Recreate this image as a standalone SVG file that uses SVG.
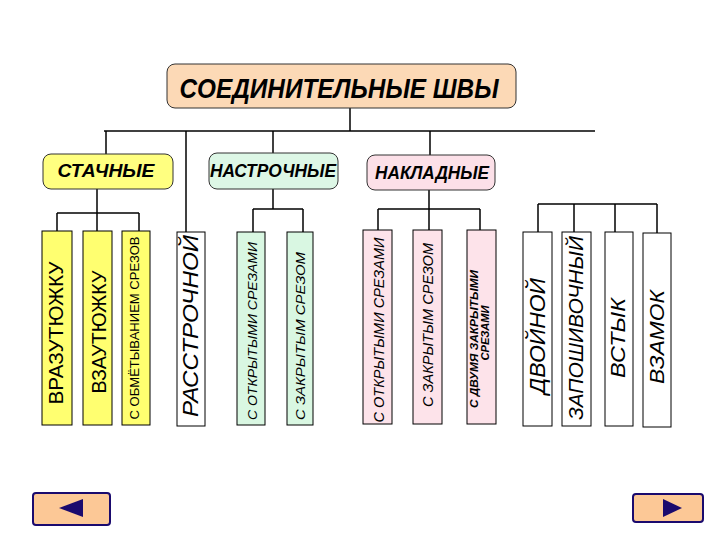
<svg xmlns="http://www.w3.org/2000/svg" width="720" height="540" viewBox="0 0 720 540">
<style>
.bg{fill:#ffffff}
.line{stroke:#000;stroke-width:1.5;fill:none}
.hdr{stroke:#333;stroke-width:1}
.box{stroke:#000;stroke-width:1}
.yel{fill:#FFFF70}
.grn{fill:#D9F7E2}
.pnk{fill:#FDE3EA}
.wht{fill:#ffffff}
.t{font-family:"Liberation Sans",Arial,sans-serif;fill:#000}
.hb{font-weight:bold;font-style:italic}
.btn{fill:#FCC896;stroke:#1A0A6E;stroke-width:2}
.tri{fill:#1A0A6E}
</style>
<rect class="bg" x="0" y="0" width="720" height="540"/>

<g id="connectors">
<line class="line" x1="104" y1="131" x2="595" y2="131"/>
<line class="line" x1="350" y1="108" x2="350" y2="131"/>
<line class="line" x1="106" y1="131" x2="106" y2="154"/>
<line class="line" x1="186" y1="131" x2="186" y2="232"/>
<line class="line" x1="273" y1="131" x2="273" y2="153"/>
<line class="line" x1="430" y1="131" x2="430" y2="155"/>
<line class="line" x1="97" y1="189" x2="97" y2="213"/>
<line class="line" x1="57" y1="213" x2="139" y2="213"/>
<line class="line" x1="57" y1="213" x2="57" y2="232"/>
<line class="line" x1="97" y1="213" x2="97" y2="232"/>
<line class="line" x1="139" y1="213" x2="139" y2="232"/>
<line class="line" x1="273" y1="189" x2="273" y2="209"/>
<line class="line" x1="253" y1="209" x2="303" y2="209"/>
<line class="line" x1="253" y1="209" x2="253" y2="232"/>
<line class="line" x1="303" y1="209" x2="303" y2="232"/>
<line class="line" x1="429" y1="190" x2="429" y2="209"/>
<line class="line" x1="378" y1="209" x2="480" y2="209"/>
<line class="line" x1="378" y1="209" x2="378" y2="230"/>
<line class="line" x1="429" y1="209" x2="429" y2="230"/>
<line class="line" x1="480" y1="209" x2="480" y2="230"/>
<line class="line" x1="538" y1="204" x2="657" y2="204"/>
<line class="line" x1="538" y1="204" x2="538" y2="232"/>
<line class="line" x1="574" y1="204" x2="574" y2="232"/>
<line class="line" x1="615" y1="204" x2="615" y2="232"/>
<line class="line" x1="657" y1="204" x2="657" y2="233"/>
</g>

<g id="title">
<rect class="hdr" x="167" y="64" width="349" height="44" rx="8" fill="#FCD9B6"/>
<text class="t hb" x="339" y="98" font-size="27" text-anchor="middle" textLength="319" lengthAdjust="spacingAndGlyphs">СОЕДИНИТЕЛЬНЫЕ ШВЫ</text>
</g>

<g id="stachnye">
<rect class="hdr" x="43" y="154" width="130" height="35" rx="8" fill="#FFFF80"/>
<text class="t hb" x="106" y="177" font-size="19" text-anchor="middle" textLength="97" lengthAdjust="spacingAndGlyphs">СТАЧНЫЕ</text>
</g>

<g id="nastrochnye">
<rect class="hdr" x="209" y="153" width="129" height="36" rx="8" fill="#DDF7E6"/>
<text class="t hb" x="273" y="177" font-size="19" text-anchor="middle" textLength="126" lengthAdjust="spacingAndGlyphs">НАСТРОЧНЫЕ</text>
</g>

<g id="nakladnye">
<rect class="hdr" x="367" y="155" width="128" height="35" rx="8" fill="#FCE0E8"/>
<text class="t hb" x="432" y="179" font-size="19" text-anchor="middle" textLength="114" lengthAdjust="spacingAndGlyphs">НАКЛАДНЫЕ</text>
</g>

<g id="vrazutyuzhku">
<rect class="box yel" x="42" y="231" width="30" height="194"/>
<text class="t" transform="translate(56,333) rotate(-90)" dy="0.35em" font-size="21" text-anchor="middle" textLength="143" lengthAdjust="spacingAndGlyphs">ВРАЗУТЮЖКУ</text>
</g>

<g id="vzautyuzhku">
<rect class="box yel" x="83" y="231" width="29" height="194"/>
<text class="t" transform="translate(99,332) rotate(-90)" dy="0.35em" font-size="21" text-anchor="middle" textLength="123" lengthAdjust="spacingAndGlyphs">ВЗАУТЮЖКУ</text>
</g>

<g id="obmetyvaniem">
<rect class="box yel" x="122" y="231" width="28" height="194"/>
<text class="t" transform="translate(134,328) rotate(-90)" dy="0.35em" font-size="13" text-anchor="middle" textLength="183" lengthAdjust="spacingAndGlyphs">С ОБМЁТЫВАНИЕМ СРЕЗОВ</text>
</g>

<g id="rasstrochnoy">
<rect class="box wht" x="177" y="232" width="28" height="194"/>
<text class="t" font-style="italic" transform="translate(190,326) rotate(-90)" dy="0.35em" font-size="22" text-anchor="middle" textLength="182" lengthAdjust="spacingAndGlyphs">РАССТРОЧНОЙ</text>
</g>

<g id="nastr-otkrytymi">
<rect class="box grn" x="237" y="232" width="28" height="193"/>
<text class="t" font-style="italic" transform="translate(252,331) rotate(-90)" dy="0.35em" font-size="13" text-anchor="middle" textLength="178" lengthAdjust="spacingAndGlyphs">С ОТКРЫТЫМИ СРЕЗАМИ</text>
</g>

<g id="nastr-zakrytym">
<rect class="box grn" x="287" y="232" width="26" height="193"/>
<text class="t" font-style="italic" transform="translate(300,336) rotate(-90)" dy="0.35em" font-size="13" text-anchor="middle" textLength="168" lengthAdjust="spacingAndGlyphs">С ЗАКРЫТЫМ СРЕЗОМ</text>
</g>

<g id="nakl-otkrytymi">
<rect class="box pnk" x="363" y="230" width="29" height="194"/>
<text class="t" font-style="italic" transform="translate(379,330) rotate(-90)" dy="0.35em" font-size="15" text-anchor="middle" textLength="185" lengthAdjust="spacingAndGlyphs">С ОТКРЫТЫМИ СРЕЗАМИ</text>
</g>

<g id="nakl-zakrytym">
<rect class="box pnk" x="413" y="230" width="29" height="194"/>
<text class="t" font-style="italic" transform="translate(428,325) rotate(-90)" dy="0.35em" font-size="15" text-anchor="middle" textLength="164" lengthAdjust="spacingAndGlyphs">С ЗАКРЫТЫМ СРЕЗОМ</text>
</g>

<g id="nakl-dvumya">
<rect class="box pnk" x="467" y="230" width="29" height="194"/>
<text class="t hb" transform="translate(474,339) rotate(-90)" dy="0.35em" font-size="10" text-anchor="middle" textLength="138" lengthAdjust="spacingAndGlyphs">С ДВУМЯ ЗАКРЫТЫМИ</text>
<text class="t hb" transform="translate(485,333) rotate(-90)" dy="0.35em" font-size="10" text-anchor="middle" textLength="55" lengthAdjust="spacingAndGlyphs">СРЕЗАМИ</text>
</g>

<g id="dvoynoy">
<rect class="box wht" x="523" y="232" width="29" height="194"/>
<text class="t" font-style="italic" transform="translate(537,336) rotate(-90)" dy="0.35em" font-size="22" text-anchor="middle" textLength="116" lengthAdjust="spacingAndGlyphs">ДВОЙНОЙ</text>
</g>

<g id="zaposhivochny">
<rect class="box wht" x="562" y="232" width="29" height="194"/>
<text class="t" font-style="italic" transform="translate(576,328) rotate(-90)" dy="0.35em" font-size="20" text-anchor="middle" textLength="184" lengthAdjust="spacingAndGlyphs">ЗАПОШИВОЧНЫЙ</text>
</g>

<g id="vstyk">
<rect class="box wht" x="605" y="232" width="28" height="194"/>
<text class="t" font-style="italic" transform="translate(618,338) rotate(-90)" dy="0.35em" font-size="20" text-anchor="middle" textLength="80" lengthAdjust="spacingAndGlyphs">ВСТЫК</text>
</g>

<g id="vzamok">
<rect class="box wht" x="643" y="233" width="28" height="194"/>
<text class="t" font-style="italic" transform="translate(657,337) rotate(-90)" dy="0.35em" font-size="20" text-anchor="middle" textLength="94" lengthAdjust="spacingAndGlyphs">ВЗАМОК</text>
</g>

<g id="btn-prev">
<rect class="btn" x="33" y="493" width="77" height="32" rx="3"/>
<polygon class="tri" points="59,508 83,499 83,517"/>
</g>

<g id="btn-next">
<rect class="btn" x="633" y="494" width="70" height="28" rx="3"/>
<polygon class="tri" points="682,508 663,499 663,517"/>
</g>
</svg>
